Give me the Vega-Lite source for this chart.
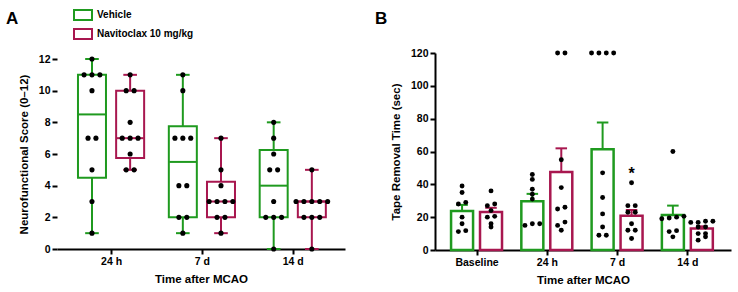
{
  "$schema": "https://vega.github.io/schema/vega-lite/v6.json",
  "background": "white",
  "padding": {"left": 6, "top": 5, "right": 2, "bottom": 2},
  "spacing": 30,
  "config": {
    "font": "Liberation Sans",
    "view": {"stroke": null},
    "axis": {
      "domainColor": "black", "domainWidth": 2,
      "tickColor": "black", "tickWidth": 2, "tickSize": 5,
      "grid": false, "labelFlush": false, "labelOverlap": false,
      "labelFont": "Liberation Sans", "labelFontSize": 10.5, "labelFontWeight": "bold", "labelColor": "black", "labelPadding": 2,
      "titleFont": "Liberation Sans", "titleFontSize": 11.5, "titleFontWeight": "bold", "titleColor": "black"
    },
    "axisX": {"titlePadding": 7},
    "axisY": {"titlePadding": 9},
    "title": {"font": "Liberation Sans", "fontSize": 17, "fontWeight": "bold", "color": "black", "anchor": "start", "frame": "group", "baseline": "alphabetic"}
  },
  "datasets": {
    "scoreSummary": [
      {"time": "24 h", "treatment": "Vehicle", "lo": 1, "q1": 4.5, "median": 8.5, "q3": 11, "hi": 12},
      {"time": "24 h", "treatment": "Navitoclax 10 mg/kg", "lo": 5, "q1": 5.75, "median": 7, "q3": 10, "hi": 11},
      {"time": "7 d", "treatment": "Vehicle", "lo": 1, "q1": 2, "median": 5.5, "q3": 7.75, "hi": 11},
      {"time": "7 d", "treatment": "Navitoclax 10 mg/kg", "lo": 1, "q1": 2, "median": 3, "q3": 4.25, "hi": 7},
      {"time": "14 d", "treatment": "Vehicle", "lo": 0, "q1": 2, "median": 4, "q3": 6.25, "hi": 8},
      {"time": "14 d", "treatment": "Navitoclax 10 mg/kg", "lo": 0, "q1": 2, "median": 3, "q3": 3, "hi": 5}
    ],
    "score": [
      {"time": "24 h", "treatment": "Vehicle", "score": 12},
      {"time": "24 h", "treatment": "Vehicle", "score": 11},
      {"time": "24 h", "treatment": "Vehicle", "score": 11},
      {"time": "24 h", "treatment": "Vehicle", "score": 11},
      {"time": "24 h", "treatment": "Vehicle", "score": 10},
      {"time": "24 h", "treatment": "Vehicle", "score": 7},
      {"time": "24 h", "treatment": "Vehicle", "score": 7},
      {"time": "24 h", "treatment": "Vehicle", "score": 5},
      {"time": "24 h", "treatment": "Vehicle", "score": 3},
      {"time": "24 h", "treatment": "Vehicle", "score": 1},
      {"time": "24 h", "treatment": "Navitoclax 10 mg/kg", "score": 11},
      {"time": "24 h", "treatment": "Navitoclax 10 mg/kg", "score": 10},
      {"time": "24 h", "treatment": "Navitoclax 10 mg/kg", "score": 10},
      {"time": "24 h", "treatment": "Navitoclax 10 mg/kg", "score": 8},
      {"time": "24 h", "treatment": "Navitoclax 10 mg/kg", "score": 7},
      {"time": "24 h", "treatment": "Navitoclax 10 mg/kg", "score": 7},
      {"time": "24 h", "treatment": "Navitoclax 10 mg/kg", "score": 7},
      {"time": "24 h", "treatment": "Navitoclax 10 mg/kg", "score": 6},
      {"time": "24 h", "treatment": "Navitoclax 10 mg/kg", "score": 5},
      {"time": "24 h", "treatment": "Navitoclax 10 mg/kg", "score": 5},
      {"time": "7 d", "treatment": "Vehicle", "score": 11},
      {"time": "7 d", "treatment": "Vehicle", "score": 10},
      {"time": "7 d", "treatment": "Vehicle", "score": 7},
      {"time": "7 d", "treatment": "Vehicle", "score": 7},
      {"time": "7 d", "treatment": "Vehicle", "score": 7},
      {"time": "7 d", "treatment": "Vehicle", "score": 4},
      {"time": "7 d", "treatment": "Vehicle", "score": 4},
      {"time": "7 d", "treatment": "Vehicle", "score": 2},
      {"time": "7 d", "treatment": "Vehicle", "score": 2},
      {"time": "7 d", "treatment": "Vehicle", "score": 1},
      {"time": "7 d", "treatment": "Navitoclax 10 mg/kg", "score": 7},
      {"time": "7 d", "treatment": "Navitoclax 10 mg/kg", "score": 5},
      {"time": "7 d", "treatment": "Navitoclax 10 mg/kg", "score": 4},
      {"time": "7 d", "treatment": "Navitoclax 10 mg/kg", "score": 3},
      {"time": "7 d", "treatment": "Navitoclax 10 mg/kg", "score": 3},
      {"time": "7 d", "treatment": "Navitoclax 10 mg/kg", "score": 3},
      {"time": "7 d", "treatment": "Navitoclax 10 mg/kg", "score": 3},
      {"time": "7 d", "treatment": "Navitoclax 10 mg/kg", "score": 2},
      {"time": "7 d", "treatment": "Navitoclax 10 mg/kg", "score": 2},
      {"time": "7 d", "treatment": "Navitoclax 10 mg/kg", "score": 1},
      {"time": "14 d", "treatment": "Vehicle", "score": 8},
      {"time": "14 d", "treatment": "Vehicle", "score": 7},
      {"time": "14 d", "treatment": "Vehicle", "score": 6},
      {"time": "14 d", "treatment": "Vehicle", "score": 5},
      {"time": "14 d", "treatment": "Vehicle", "score": 5},
      {"time": "14 d", "treatment": "Vehicle", "score": 3},
      {"time": "14 d", "treatment": "Vehicle", "score": 2},
      {"time": "14 d", "treatment": "Vehicle", "score": 2},
      {"time": "14 d", "treatment": "Vehicle", "score": 2},
      {"time": "14 d", "treatment": "Vehicle", "score": 0},
      {"time": "14 d", "treatment": "Navitoclax 10 mg/kg", "score": 5},
      {"time": "14 d", "treatment": "Navitoclax 10 mg/kg", "score": 3},
      {"time": "14 d", "treatment": "Navitoclax 10 mg/kg", "score": 3},
      {"time": "14 d", "treatment": "Navitoclax 10 mg/kg", "score": 3},
      {"time": "14 d", "treatment": "Navitoclax 10 mg/kg", "score": 3},
      {"time": "14 d", "treatment": "Navitoclax 10 mg/kg", "score": 3},
      {"time": "14 d", "treatment": "Navitoclax 10 mg/kg", "score": 2},
      {"time": "14 d", "treatment": "Navitoclax 10 mg/kg", "score": 2},
      {"time": "14 d", "treatment": "Navitoclax 10 mg/kg", "score": 2},
      {"time": "14 d", "treatment": "Navitoclax 10 mg/kg", "score": 0}
    ],
    "tape": [
      {"time": "Baseline", "treatment": "Vehicle", "value": 39},
      {"time": "Baseline", "treatment": "Vehicle", "value": 35},
      {"time": "Baseline", "treatment": "Vehicle", "value": 29},
      {"time": "Baseline", "treatment": "Vehicle", "value": 28},
      {"time": "Baseline", "treatment": "Vehicle", "value": 20},
      {"time": "Baseline", "treatment": "Vehicle", "value": 16},
      {"time": "Baseline", "treatment": "Vehicle", "value": 11.8},
      {"time": "Baseline", "treatment": "Vehicle", "value": 11.2},
      {"time": "Baseline", "treatment": "Navitoclax 10 mg/kg", "value": 36},
      {"time": "Baseline", "treatment": "Navitoclax 10 mg/kg", "value": 28},
      {"time": "Baseline", "treatment": "Navitoclax 10 mg/kg", "value": 27},
      {"time": "Baseline", "treatment": "Navitoclax 10 mg/kg", "value": 24},
      {"time": "Baseline", "treatment": "Navitoclax 10 mg/kg", "value": 20.5},
      {"time": "Baseline", "treatment": "Navitoclax 10 mg/kg", "value": 20},
      {"time": "Baseline", "treatment": "Navitoclax 10 mg/kg", "value": 16},
      {"time": "Baseline", "treatment": "Navitoclax 10 mg/kg", "value": 14},
      {"time": "24 h", "treatment": "Vehicle", "value": 46},
      {"time": "24 h", "treatment": "Vehicle", "value": 43},
      {"time": "24 h", "treatment": "Vehicle", "value": 37},
      {"time": "24 h", "treatment": "Vehicle", "value": 34},
      {"time": "24 h", "treatment": "Vehicle", "value": 31},
      {"time": "24 h", "treatment": "Vehicle", "value": 16},
      {"time": "24 h", "treatment": "Vehicle", "value": 16},
      {"time": "24 h", "treatment": "Vehicle", "value": 15},
      {"time": "24 h", "treatment": "Navitoclax 10 mg/kg", "value": 120},
      {"time": "24 h", "treatment": "Navitoclax 10 mg/kg", "value": 120},
      {"time": "24 h", "treatment": "Navitoclax 10 mg/kg", "value": 55},
      {"time": "24 h", "treatment": "Navitoclax 10 mg/kg", "value": 38},
      {"time": "24 h", "treatment": "Navitoclax 10 mg/kg", "value": 26},
      {"time": "24 h", "treatment": "Navitoclax 10 mg/kg", "value": 25},
      {"time": "24 h", "treatment": "Navitoclax 10 mg/kg", "value": 17},
      {"time": "24 h", "treatment": "Navitoclax 10 mg/kg", "value": 15},
      {"time": "24 h", "treatment": "Navitoclax 10 mg/kg", "value": 12},
      {"time": "7 d", "treatment": "Vehicle", "value": 120},
      {"time": "7 d", "treatment": "Vehicle", "value": 120},
      {"time": "7 d", "treatment": "Vehicle", "value": 120},
      {"time": "7 d", "treatment": "Vehicle", "value": 120},
      {"time": "7 d", "treatment": "Vehicle", "value": 47},
      {"time": "7 d", "treatment": "Vehicle", "value": 32},
      {"time": "7 d", "treatment": "Vehicle", "value": 22},
      {"time": "7 d", "treatment": "Vehicle", "value": 14},
      {"time": "7 d", "treatment": "Vehicle", "value": 9},
      {"time": "7 d", "treatment": "Vehicle", "value": 9},
      {"time": "7 d", "treatment": "Navitoclax 10 mg/kg", "value": 41},
      {"time": "7 d", "treatment": "Navitoclax 10 mg/kg", "value": 27},
      {"time": "7 d", "treatment": "Navitoclax 10 mg/kg", "value": 27},
      {"time": "7 d", "treatment": "Navitoclax 10 mg/kg", "value": 23},
      {"time": "7 d", "treatment": "Navitoclax 10 mg/kg", "value": 23},
      {"time": "7 d", "treatment": "Navitoclax 10 mg/kg", "value": 16},
      {"time": "7 d", "treatment": "Navitoclax 10 mg/kg", "value": 12},
      {"time": "7 d", "treatment": "Navitoclax 10 mg/kg", "value": 12},
      {"time": "7 d", "treatment": "Navitoclax 10 mg/kg", "value": 7},
      {"time": "14 d", "treatment": "Vehicle", "value": 60},
      {"time": "14 d", "treatment": "Vehicle", "value": 20.5},
      {"time": "14 d", "treatment": "Vehicle", "value": 20},
      {"time": "14 d", "treatment": "Vehicle", "value": 19.5},
      {"time": "14 d", "treatment": "Vehicle", "value": 19},
      {"time": "14 d", "treatment": "Vehicle", "value": 11.8},
      {"time": "14 d", "treatment": "Vehicle", "value": 11.2},
      {"time": "14 d", "treatment": "Vehicle", "value": 8},
      {"time": "14 d", "treatment": "Navitoclax 10 mg/kg", "value": 17.5},
      {"time": "14 d", "treatment": "Navitoclax 10 mg/kg", "value": 17.5},
      {"time": "14 d", "treatment": "Navitoclax 10 mg/kg", "value": 16.8},
      {"time": "14 d", "treatment": "Navitoclax 10 mg/kg", "value": 16.8},
      {"time": "14 d", "treatment": "Navitoclax 10 mg/kg", "value": 14},
      {"time": "14 d", "treatment": "Navitoclax 10 mg/kg", "value": 14},
      {"time": "14 d", "treatment": "Navitoclax 10 mg/kg", "value": 10},
      {"time": "14 d", "treatment": "Navitoclax 10 mg/kg", "value": 10},
      {"time": "14 d", "treatment": "Navitoclax 10 mg/kg", "value": 8},
      {"time": "14 d", "treatment": "Navitoclax 10 mg/kg", "value": 6}
    ]
  },
  "resolve": {
    "scale": {"x": "independent", "y": "independent", "color": "independent", "stroke": "independent"},
    "legend": {"color": "independent", "stroke": "independent"}
  },
  "hconcat": [
    {
      "width": 288,
      "height": 196,
      "title": {"text": "A", "dx": -51, "offset": -23},
      "layer": [
        {
          "data": {"name": "scoreSummary"},
          "transform": [
            {"calculate": "indexof(['24 h','7 d','14 d'], datum.time) + (datum.treatment === 'Vehicle' ? -0.21 : 0.21)", "as": "c"},
            {"calculate": "datum.c - 0.149", "as": "boxLeft"},
            {"calculate": "datum.c + 0.149", "as": "boxRight"},
            {"calculate": "datum.c - 0.075", "as": "capLeft"},
            {"calculate": "datum.c + 0.075", "as": "capRight"}
          ],
          "encoding": {
            "stroke": {"field": "treatment", "type": "nominal",
                       "scale": {"domain": ["Vehicle", "Navitoclax 10 mg/kg"], "range": ["#1f9a1f", "#a8174f"]},
                       "legend": {"orient": "none", "legendX": 16, "legendY": -48, "direction": "vertical", "title": null,
                                  "symbolType": "M-1,-0.55H1V0.55H-1Z", "symbolSize": 324, "symbolStrokeWidth": 2, "symbolFillColor": "white",
                                  "labelFont": "Liberation Sans", "labelFontSize": 10, "labelFontWeight": "bold", "labelColor": "black",
                                  "labelOffset": 4, "rowPadding": -4}}
          },
          "layer": [
            {
              "mark": {"type": "rule", "strokeWidth": 2},
              "encoding": {
                "x": {"field": "c", "type": "quantitative", "scale": {"domain": [-0.54, 2.52], "nice": false, "zero": false},
                      "axis": {"values": [0, 1, 2], "labelExpr": "['24 h','7 d','14 d'][datum.value]", "title": "Time after MCAO"}},
                "y": {"field": "lo", "type": "quantitative", "scale": {"domain": [0, 12.379], "nice": false, "zero": false},
                      "axis": {"values": [0, 2, 4, 6, 8, 10, 12], "tickCount": 7, "labelOverlap": false, "domain": false, "titleY": 101, "title": "Neurofunctional Score (0–12)"}},
                "y2": {"field": "hi"}
              }
            },
            {
              "mark": {"type": "bar", "orient": "vertical", "width": 28, "fill": "white", "strokeWidth": 2},
              "encoding": {
                "x": {"field": "c", "type": "quantitative"},
                "y": {"field": "q1", "type": "quantitative"},
                "y2": {"field": "q3"}
              }
            },
            {
              "mark": {"type": "rule", "strokeWidth": 2},
              "encoding": {
                "x": {"field": "boxLeft", "type": "quantitative"},
                "x2": {"field": "boxRight"},
                "y": {"field": "median", "type": "quantitative"}
              }
            },
            {
              "transform": [{"fold": ["lo", "hi"], "as": ["end", "endValue"]}],
              "mark": {"type": "rule", "strokeWidth": 2},
              "encoding": {
                "x": {"field": "capLeft", "type": "quantitative"},
                "x2": {"field": "capRight"},
                "y": {"field": "endValue", "type": "quantitative"}
              }
            }
          ]
        },
        {
          "data": {"name": "score"},
          "transform": [
            {"calculate": "indexof(['24 h','7 d','14 d'], datum.time) + (datum.treatment === 'Vehicle' ? -0.21 : 0.21)", "as": "c"},
            {"window": [{"op": "row_number", "as": "rn"}], "groupby": ["time", "treatment", "score"], "sort": [{"field": "score", "order": "ascending"}]},
            {"joinaggregate": [{"op": "count", "as": "n"}], "groupby": ["time", "treatment", "score"]},
            {"calculate": "datum.c + (datum.rn - (datum.n + 1) / 2) * 0.087", "as": "px"}
          ],
          "mark": {"type": "circle", "size": 26, "color": "black", "opacity": 1},
          "encoding": {
            "x": {"field": "px", "type": "quantitative"},
            "y": {"field": "score", "type": "quantitative"}
          }
        },
        {
          "mark": {"type": "rule", "strokeWidth": 2, "color": "black"},
          "encoding": {
            "x": {"datum": -0.54, "type": "quantitative"},
            "y": {"datum": 0, "type": "quantitative"},
            "y2": {"datum": 12}
          }
        }
      ]
    },
    {
      "width": 296,
      "height": 197,
      "title": {"text": "B", "dx": -60, "offset": 20},
      "data": {"name": "tape"},
      "transform": [
        {"calculate": "indexof(['Baseline','24 h','7 d','14 d'], datum.time) + (datum.treatment === 'Vehicle' ? -0.206 : 0.206)", "as": "c"}
      ],
      "layer": [
        {
          "transform": [
            {"aggregate": [{"op": "mean", "field": "value", "as": "mean"}, {"op": "stderr", "field": "value", "as": "sem"}], "groupby": ["time", "treatment", "c"]},
            {"calculate": "datum.mean + datum.sem", "as": "upper"}
          ],
          "encoding": {
            "stroke": {"field": "treatment", "type": "nominal", "legend": null,
                       "scale": {"domain": ["Vehicle", "Navitoclax 10 mg/kg"], "range": ["#1f9a1f", "#a8174f"]}}
          },
          "layer": [
            {
              "mark": {"type": "bar", "orient": "vertical", "width": 22, "fill": "white", "strokeWidth": 2.5},
              "encoding": {
                "x": {"field": "c", "type": "quantitative", "scale": {"domain": [-0.52, 3.55], "nice": false, "zero": false},
                      "axis": {"values": [0, 1, 2, 3], "labelExpr": "['Baseline','24 h','7 d','14 d'][datum.value]", "title": "Time after MCAO"}},
                "y": {"field": "mean", "type": "quantitative", "scale": {"domain": [0, 120], "nice": false},
                      "axis": {"values": [0, 20, 40, 60, 80, 100, 120], "tickCount": 7, "labelOverlap": false, "title": "Tape Removal Time (sec)"}}
              }
            },
            {
              "mark": {"type": "rule", "strokeWidth": 2},
              "encoding": {
                "x": {"field": "c", "type": "quantitative"},
                "y": {"field": "mean", "type": "quantitative"},
                "y2": {"field": "upper"}
              }
            },
            {
              "transform": [
                {"calculate": "datum.c - 0.082", "as": "capLeft"},
                {"calculate": "datum.c + 0.082", "as": "capRight"}
              ],
              "mark": {"type": "rule", "strokeWidth": 2},
              "encoding": {
                "x": {"field": "capLeft", "type": "quantitative"},
                "x2": {"field": "capRight"},
                "y": {"field": "upper", "type": "quantitative"}
              }
            }
          ]
        },
        {
          "transform": [
            {"calculate": "floor(datum.value / 3)", "as": "bin"},
            {"window": [{"op": "row_number", "as": "rn"}], "groupby": ["time", "treatment", "bin"], "sort": [{"field": "value", "order": "ascending"}]},
            {"joinaggregate": [{"op": "count", "as": "n"}], "groupby": ["time", "treatment", "bin"]},
            {"calculate": "datum.c + (datum.rn - (datum.n + 1) / 2) * 0.105", "as": "px"}
          ],
          "mark": {"type": "circle", "size": 24, "color": "black", "opacity": 1},
          "encoding": {
            "x": {"field": "px", "type": "quantitative"},
            "y": {"field": "value", "type": "quantitative"}
          }
        },
        {
          "transform": [
            {"filter": "datum.time === '7 d' && datum.treatment !== 'Vehicle'"},
            {"aggregate": [{"op": "max", "field": "value", "as": "top"}], "groupby": ["c"]}
          ],
          "mark": {"type": "text", "text": "*", "fontSize": 16, "fontWeight": "bold", "baseline": "alphabetic", "align": "center", "dy": -4, "color": "black"},
          "encoding": {
            "x": {"field": "c", "type": "quantitative"},
            "y": {"field": "top", "type": "quantitative"}
          }
        }
      ]
    }
  ]
}
